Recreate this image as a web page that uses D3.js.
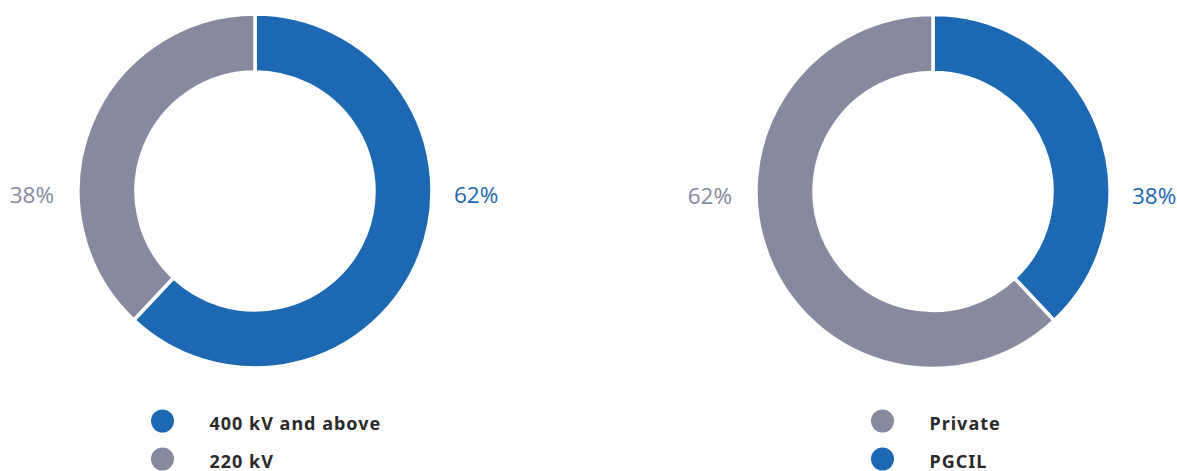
<!DOCTYPE html>
<html>
<head>
<meta charset="utf-8">
<script src="https://cdn.jsdelivr.net/npm/d3@7"></script>
<style>
  html, body { margin: 0; padding: 0; background: #fff; }
  svg { display: block; }
</style>
</head>
<body>
<svg id="chart" width="1177" height="471"></svg>
<script>
// Share of transmission lines by voltage class and by ownership
const voltageLabels = ["400 kV and above", "220 kV"];
const voltageValues = [62, 38];
const ownerLabels = ["PGCIL", "Private"];
const ownerValues = [38, 62];
// legend order for the ownership chart
const ownerLegendOrder = ["Private", "PGCIL"];

const BLUE = "#1d68b3";
const GREY = "#88899f";

const svg = d3.select("#chart");
const outerR = 177, innerR = 119;

const arc = d3.arc().innerRadius(innerR).outerRadius(outerR);
const pie = d3.pie().sort(null).value(d => d.value);

function donut(cx, cy, labels, values, colors, legendOrder, legendX) {
  const data = labels.map((l, i) => ({ label: l, value: values[i], color: colors[i] }));
  const g = svg.append("g").attr("transform", `translate(${cx},${cy})`);
  const arcs = pie(data);

  g.selectAll("path")
    .data(arcs)
    .join("path")
    .attr("d", arc)
    .attr("fill", d => d.data.color)
    .attr("stroke", "#fff")
    .attr("stroke-width", 3.5)
    .attr("stroke-linejoin", "miter");

  // percentage labels on the left/right of each ring
  g.selectAll("text.pct")
    .data(arcs)
    .join("text")
    .attr("class", "pct")
    .attr("x", d => ((d.startAngle + d.endAngle) / 2 < Math.PI ? outerR + 22 : -(outerR + 24)))
    .attr("y", 12)
    .attr("text-anchor", d => ((d.startAngle + d.endAngle) / 2 < Math.PI ? "start" : "end"))
    .attr("fill", d => d.data.color)
    .attr("font-family", "'Open Sans', 'Noto Sans', sans-serif")
    .attr("font-size", 22.5)
    .text(d => d.data.value + "%");

  // legend
  const ordered = legendOrder.map(n => data.find(d => d.label === n));
  const lg = svg.append("g").attr("transform", `translate(${legendX},0)`);
  const row = lg.selectAll("g")
    .data(ordered)
    .join("g")
    .attr("transform", (d, i) => `translate(0,${421 + i * 38})`);
  row.append("circle").attr("r", 11.5).attr("fill", d => d.color);
  row.append("text")
    .attr("x", 47)
    .attr("y", 8.5)
    .attr("fill", "#2a2a2a")
    .attr("font-family", "'Noto Sans', 'Open Sans', sans-serif")
    .attr("font-weight", 700)
    .attr("font-size", 18)
    .attr("letter-spacing", 1)
    .text(d => d.label);
}

donut(255, 191, voltageLabels, voltageValues, [BLUE, GREY], voltageLabels, 162.5);
donut(933, 191.5, ownerLabels, ownerValues, [BLUE, GREY], ownerLegendOrder, 882.5);
</script>
</body>
</html>
